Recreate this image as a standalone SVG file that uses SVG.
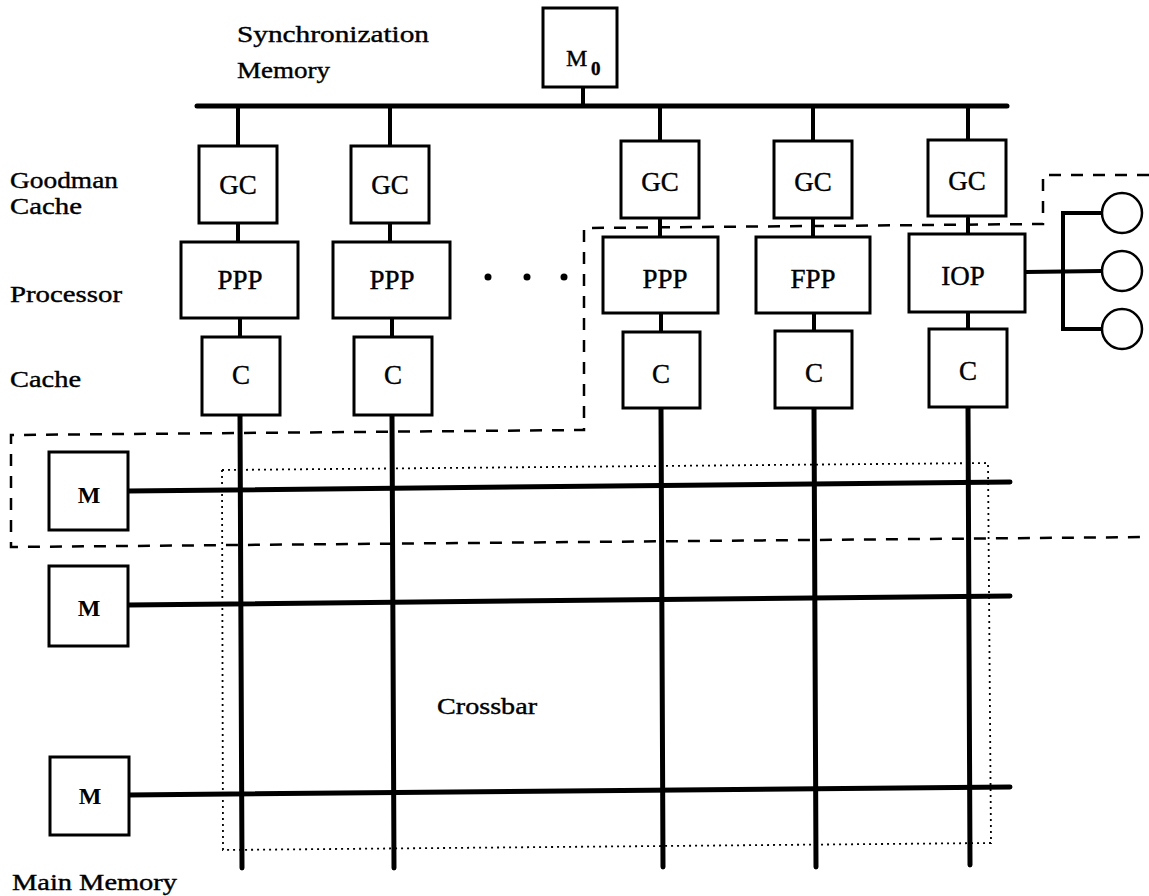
<svg xmlns="http://www.w3.org/2000/svg" width="1149" height="896" viewBox="0 0 1149 896">
<style>
.bx{fill:#fff;stroke:#000;stroke-width:3}
.t{font-family:"Liberation Serif",serif;fill:#000;stroke:#000;stroke-width:0.4}
.lb{font-size:24px}
.bt{font-size:27px;text-anchor:middle}
.mt{font-size:24px;text-anchor:middle;font-weight:bold;stroke-width:0}
.w{stroke:#000;stroke-width:4;fill:none;stroke-linecap:round}
.bus{stroke:#000;stroke-width:5;fill:none;stroke-linecap:round}
.dash{stroke:#000;stroke-width:2.5;fill:none;stroke-dasharray:12 10}
.dot{stroke:#000;stroke-width:1.8;fill:none;stroke-dasharray:2 4}
.cir{fill:#fff;stroke:#000;stroke-width:2.5}
</style>
<rect width="1149" height="896" fill="#fff"/>

<g id="labels">
<text class="t lb" x="237" y="42" textLength="192" lengthAdjust="spacingAndGlyphs">Synchronization</text>
<text class="t lb" x="237" y="78" textLength="93" lengthAdjust="spacingAndGlyphs">Memory</text>
<text class="t lb" x="10" y="188" textLength="108" lengthAdjust="spacingAndGlyphs">Goodman</text>
<text class="t lb" x="10" y="214" textLength="72" lengthAdjust="spacingAndGlyphs">Cache</text>
<text class="t lb" x="10" y="302" textLength="112" lengthAdjust="spacingAndGlyphs">Processor</text>
<text class="t lb" x="10" y="387" textLength="71" lengthAdjust="spacingAndGlyphs">Cache</text>
<text class="t lb" x="12" y="890" textLength="165" lengthAdjust="spacingAndGlyphs">Main Memory</text>
<text class="t lb" x="437" y="714" textLength="100" lengthAdjust="spacingAndGlyphs">Crossbar</text>
</g>

<g id="connectors">
<line class="bus" x1="197" y1="106" x2="1007" y2="106"/>
<line class="w" x1="583" y1="87" x2="583" y2="106"/>
<line class="w" x1="238" y1="106" x2="238" y2="146"/>
<line class="w" x1="390" y1="106" x2="390" y2="146"/>
<line class="w" x1="660" y1="106" x2="660" y2="141"/>
<line class="w" x1="813" y1="106" x2="813" y2="141"/>
<line class="w" x1="968" y1="106" x2="968" y2="141"/>
<line class="w" x1="238" y1="223" x2="238" y2="242"/>
<line class="w" x1="390" y1="223" x2="390" y2="242"/>
<line class="w" x1="660" y1="218" x2="660" y2="237"/>
<line class="w" x1="813" y1="218" x2="813" y2="237"/>
<line class="w" x1="968" y1="218" x2="968" y2="235"/>
<line class="w" x1="240" y1="318" x2="240" y2="337"/>
<line class="w" x1="392" y1="318" x2="392" y2="337"/>
<line class="w" x1="661" y1="313" x2="661" y2="332"/>
<line class="w" x1="814" y1="313" x2="814" y2="332"/>
<line class="w" x1="968" y1="312" x2="968" y2="330"/>
<line class="bus" x1="240" y1="415" x2="242" y2="868"/>
<line class="bus" x1="392" y1="415" x2="394" y2="868"/>
<line class="bus" x1="661" y1="408" x2="663" y2="867"/>
<line class="bus" x1="814" y1="408" x2="816" y2="867"/>
<line class="bus" x1="968" y1="407" x2="970" y2="865"/>
<line class="bus" x1="128" y1="491" x2="1010" y2="482"/>
<line class="bus" x1="128" y1="605" x2="1010" y2="596"/>
<line class="bus" x1="128" y1="795" x2="1010" y2="787"/>
<line class="w" x1="1025" y1="272" x2="1102" y2="271"/>
<polyline class="w" points="1102,213 1063,213 1063,329 1102,329"/>
</g>

<g id="crossbar-boundary">
<polygon class="dot" points="222,470 988,463 991,843 223,850"/>
</g>
<g id="partition">
<polyline class="dash" points="1149,175 1043,175 1043,224 584,228 584,430 11,435 11,547 1149,537"/>
</g>

<g id="dots">
<circle cx="488" cy="277" r="3.5"/>
<circle cx="527" cy="277" r="3.5"/>
<circle cx="564" cy="277" r="3.5"/>
</g>

<g id="m0">
<rect class="bx" x="543" y="8" width="74" height="79"/>
<text class="t" x="566" y="66" font-size="24">M</text>
<text class="t" x="591" y="75" font-size="19" font-weight="bold">0</text>
</g>

<g id="gc1"><rect class="bx" x="199" y="146" width="78" height="77"/><text class="t bt" x="238" y="194">GC</text></g>
<g id="gc2"><rect class="bx" x="351" y="146" width="78" height="77"/><text class="t bt" x="390" y="194">GC</text></g>
<g id="gc3"><rect class="bx" x="621" y="141" width="78" height="77"/><text class="t bt" x="660" y="191">GC</text></g>
<g id="gc4"><rect class="bx" x="774" y="141" width="78" height="77"/><text class="t bt" x="813" y="191">GC</text></g>
<g id="gc5"><rect class="bx" x="928" y="140" width="78" height="76"/><text class="t bt" x="967" y="190">GC</text></g>

<g id="ppp1"><rect class="bx" x="181" y="242" width="117" height="76"/><text class="t bt" x="240" y="289">PPP</text></g>
<g id="ppp2"><rect class="bx" x="333" y="242" width="117" height="76"/><text class="t bt" x="392" y="289">PPP</text></g>
<g id="ppp3"><rect class="bx" x="603" y="237" width="115" height="76"/><text class="t bt" x="665" y="288">PPP</text></g>
<g id="fpp"><rect class="bx" x="756" y="237" width="114" height="76"/><text class="t bt" x="813" y="288">FPP</text></g>
<g id="iop"><rect class="bx" x="909" y="234" width="116" height="78"/><text class="t bt" x="963" y="285">IOP</text></g>

<g id="c1"><rect class="bx" x="202" y="337" width="78" height="78"/><text class="t bt" x="241" y="384">C</text></g>
<g id="c2"><rect class="bx" x="354" y="337" width="78" height="78"/><text class="t bt" x="393" y="384">C</text></g>
<g id="c3"><rect class="bx" x="623" y="332" width="77" height="76"/><text class="t bt" x="661" y="383">C</text></g>
<g id="c4"><rect class="bx" x="775" y="331" width="77" height="77"/><text class="t bt" x="814" y="382">C</text></g>
<g id="c5"><rect class="bx" x="929" y="329" width="78" height="78"/><text class="t bt" x="968" y="380">C</text></g>

<g id="m1"><rect class="bx" x="49" y="452" width="79" height="78"/><text class="t mt" x="89" y="503">M</text></g>
<g id="m2"><rect class="bx" x="49" y="566" width="79" height="80"/><text class="t mt" x="89" y="616">M</text></g>
<g id="m3"><rect class="bx" x="50" y="757" width="79" height="78"/><text class="t mt" x="90" y="804">M</text></g>

<g id="io1"><circle class="cir" cx="1122" cy="213" r="20"/></g>
<g id="io2"><circle class="cir" cx="1122" cy="271" r="20"/></g>
<g id="io3"><circle class="cir" cx="1122" cy="329" r="20"/></g>
</svg>
